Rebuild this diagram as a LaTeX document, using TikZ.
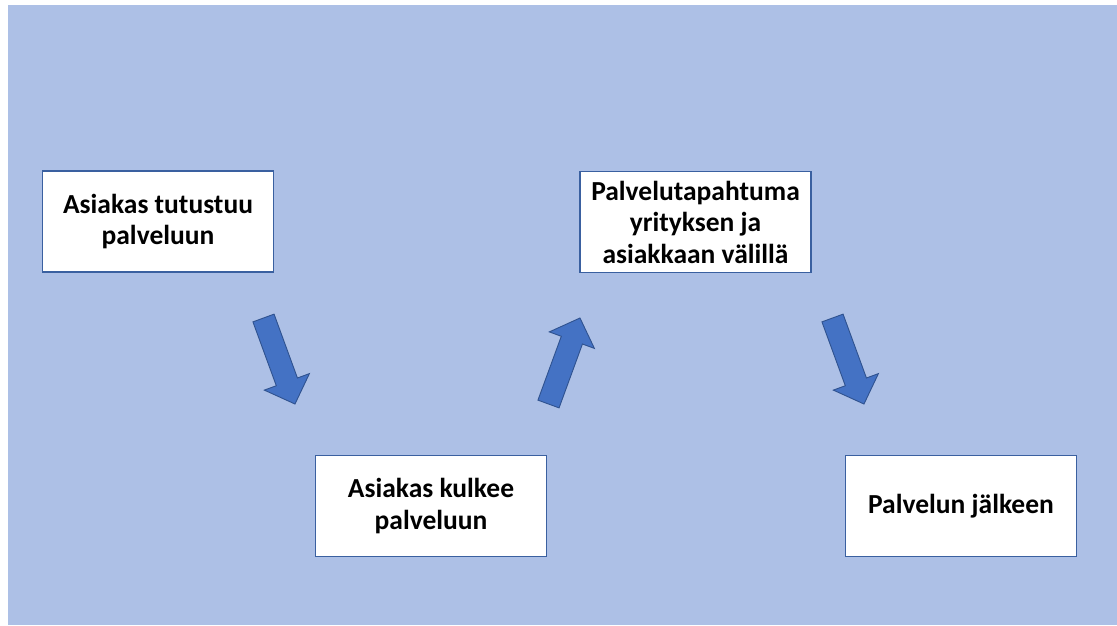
\documentclass[tikz,border=0pt]{standalone}
\usepackage{fontspec}
\setmainfont{Carlito}
\definecolor{bgblue}{RGB}{173,192,230}
\definecolor{arrowfill}{RGB}{68,114,196}
\definecolor{arrowline}{RGB}{47,82,143}
\definecolor{boxline}{RGB}{58,96,160}
\tikzset{
  stagebox/.style={draw=boxline, line width=1.4pt, fill=white, minimum width=231pt, minimum height=101pt,
    align=center, inner sep=0pt, font=\fontsize{27.5}{31.5}\selectfont\bfseries},
  blockarrow/.style={fill=arrowfill, draw=arrowline, line width=0.9pt, line join=miter}
}
\newcommand{\blockarrowpath}{(0,-11.25) -- (68,-11.25) -- (68,-24) -- (91.6,0) -- (68,24) -- (68,11.25) -- (0,11.25) -- cycle}
\begin{document}
\begin{tikzpicture}[x=1pt,y=-1pt]
\useasboundingbox (0,0) rectangle (1117,625);
\fill[bgblue] (8,5) rectangle (1117,625);
\node[stagebox] (b1) at (158,221.5) {Asiakas tutustuu\\palveluun};
\node[stagebox] (b2) at (431,506) {Asiakas kulkee\\palveluun};
\node[stagebox] (b3) at (695.5,222) {Palvelutapahtuma\\yrityksen ja\\asiakkaan välillä};
\node[stagebox] (b4) at (961,506) {Palvelun jälkeen};
\begin{scope}[shift={(263.5,318)}, rotate=-69.9]
  \draw[blockarrow] \blockarrowpath;
\end{scope}
\begin{scope}[shift={(548.5,404)}, rotate=69.9]
  \draw[blockarrow] \blockarrowpath;
\end{scope}
\begin{scope}[shift={(832.5,318)}, rotate=-69.9]
  \draw[blockarrow] \blockarrowpath;
\end{scope}
\end{tikzpicture}
\end{document}
